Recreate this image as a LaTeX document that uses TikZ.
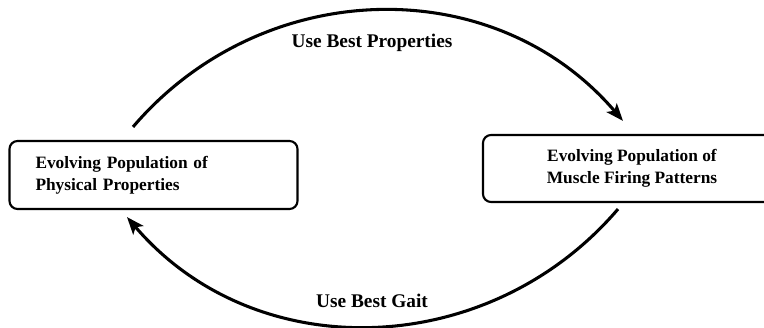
\documentclass[tikz,border=0pt]{standalone}
\usepackage{fontspec}
\setmainfont{Liberation Serif}
\usetikzlibrary{arrows.meta, positioning, calc}

\begin{document}
\begin{tikzpicture}[
        x=0.75pt, y=0.75pt,
        popbox/.style={draw, line width=1.6pt, rounded corners=6pt, font=\bfseries\fontsize{13}{16.5}\selectfont},
        flow/.style={line width=2.3pt, -{Stealth[length=13pt, width=10pt, inset=3pt]}},
        flowlabel/.style={font=\bfseries\fontsize{14.5}{16}\selectfont},
        every node/.style={color=black}
    ]
    \useasboundingbox (0,0) rectangle (764,328);
    \clip (0,0) rectangle (764,328);

    \node[popbox, align=left, text width=177pt, inner xsep=19.5pt, minimum height=51pt]
        (phys) at (153.5,153) {Evolving Population of\\Physical Properties};
    \node[popbox, align=center, minimum width=223.5pt, minimum height=50.25pt]
        (muscle) at (632,159.5) {Evolving Population of\\Muscle Firing Patterns};

    %% top arc: properties -> muscles
    \draw[flow] ($(phys.north)+(-20.5,13)$) .. controls +(129,151) and +(-129,151) .. ($(muscle.north)+(-9,13)$);
    \node[flowlabel] (top) at (372,285.5) {Use Best Properties};

    %% bottom arc: muscles -> properties
    \draw[flow] ($(muscle.south)+(-14,-6)$) .. controls +(-129,-151) and +(129,-151) .. ($(phys.south)+(-26.5,-7)$);
    \node[flowlabel] (bottom) at (372,27) {Use Best Gait};

\end{tikzpicture}
\end{document}
